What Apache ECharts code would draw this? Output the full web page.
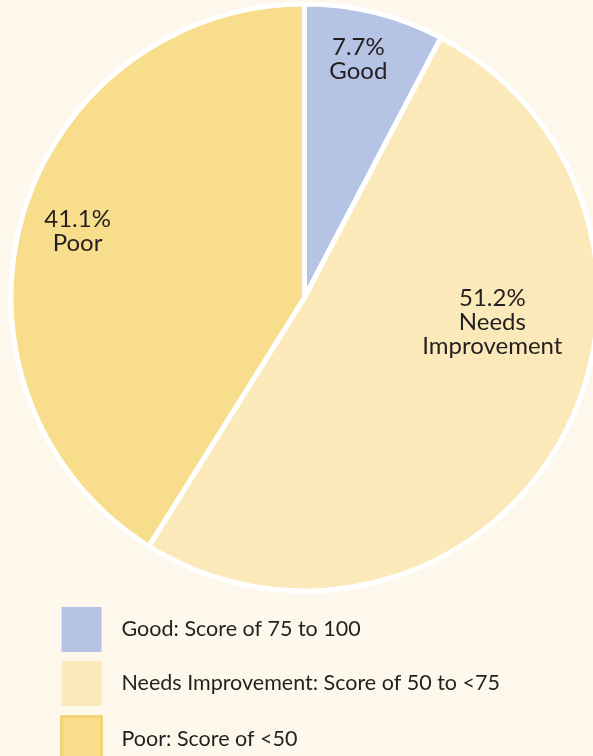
<!DOCTYPE html>
<html>
<head>
<meta charset="utf-8">
<script src="https://cdn.jsdelivr.net/npm/echarts@6/dist/echarts.min.js"></script>
<style>
html,body{margin:0;padding:0;background:#fdf8eb;}
#c{width:593px;height:756px;}
</style>
</head>
<body>
<div id="c"></div>
<script>
const categories = ['Good', 'Needs Improvement', 'Poor'];
const values = [7.7, 51.2, 41.1];
const sliceLabels = ['7.7%\nGood', '51.2%\nNeeds\nImprovement', '41.1%\nPoor'];
const legendLabels = ['Good: Score of 75 to 100', 'Needs Improvement: Score of 50 to <75', 'Poor: Score of <50'];
const colors = ['#b5c3e5', '#fbe9b9', '#f8de8c'];
const labelOffsets = [[18, -93], [58, -50], [-83, -25]];

const chart = echarts.init(document.getElementById('c'));
const font = 'Lato, "Open Sans", sans-serif';
chart.setOption({
  backgroundColor: '#fdf8eb',
  animation: false,
  legend: {
    orient: 'vertical',
    left: 55,
    top: 602,
    height: 220,
    itemWidth: 40,
    itemHeight: 45,
    itemGap: 9,
    icon: 'rect',
    itemStyle: { borderWidth: 0 },
    textStyle: { fontFamily: font, fontSize: 21.5, color: '#231f20', padding: [0, 0, 0, 15] },
    formatter: function (name) { return legendLabels[categories.indexOf(name)]; },
    data: categories.map(function (c, i) {
      return i === 2 ? { name: c, itemStyle: { borderColor: '#f2d477', borderWidth: 3 } } : { name: c };
    })
  },
  series: [{
    type: 'pie',
    center: [304.5, 297.5],
    radius: [0, 293.5],
    startAngle: 90,
    clockwise: true,
    label: {
      position: 'inside',
      fontFamily: font,
      fontSize: 24,
      lineHeight: 24,
      color: '#231f20',
      align: 'center'
    },
    labelLine: { show: false },
    itemStyle: { borderColor: '#ffffff', borderWidth: 5 },
    emphasis: { disabled: true },
    data: categories.map(function (c, i) {
      return {
        name: c,
        value: values[i],
        itemStyle: { color: colors[i] },
        label: { formatter: sliceLabels[i], offset: labelOffsets[i] }
      };
    })
  }]
});
</script>
</body>
</html>
